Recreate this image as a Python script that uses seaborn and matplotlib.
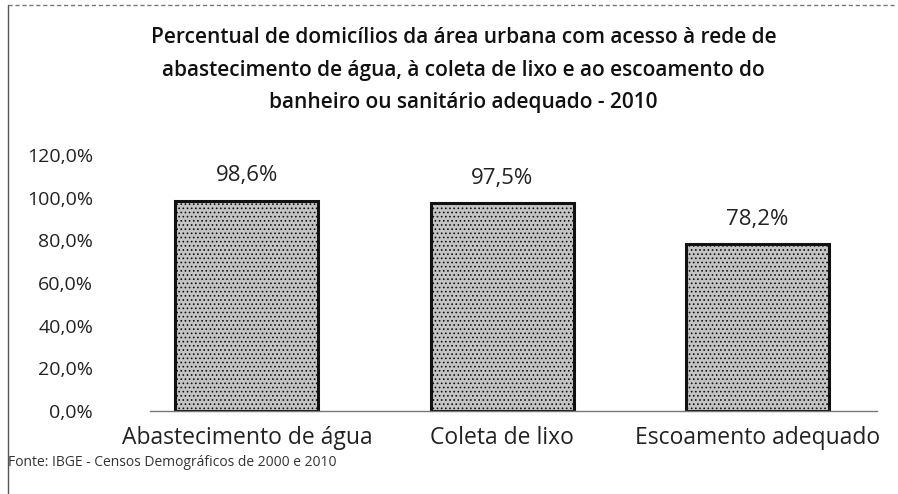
import matplotlib
matplotlib.use("Agg")
import matplotlib.pyplot as plt
import seaborn as sns
import pandas as pd
from matplotlib.lines import Line2D

# data
categorias = ["Abastecimento de água", "Coleta de lixo", "Escoamento adequado"]
percentuais = [98.6, 97.5, 78.2]
yticks = [0, 20, 40, 60, 80, 100, 120]

titulo = ("Percentual de domicílios da área urbana com acesso à rede de\n"
          "abastecimento de água, à coleta de lixo e ao escoamento do\n"
          "banheiro ou sanitário adequado - 2010")
fonte = "Fonte: IBGE - Censos Demográficos de 2000 e 2010"

sns.set_style("white")
plt.rcParams['font.family'] = ['Open Sans', 'DejaVu Sans']
plt.rcParams['hatch.linewidth'] = 0.7

df = pd.DataFrame({'cat': categorias, 'pct': percentuais})

fig = plt.figure(figsize=(8.98, 4.94), dpi=100)
ax = fig.add_axes([0.167, 0.168, 0.81, 0.518])

sns.barplot(x='cat', y='pct', data=df, ax=ax, color='#c4c4c4',
            width=0.56, edgecolor='#111111', linewidth=2.2, saturation=1)
for p in ax.patches:
    p.set_hatch('....')

# value labels above bars
for i, v in enumerate(percentuais):
    ax.annotate(f"{v:.1f}%".replace('.', ','), (i, v), xytext=(0, 18),
                textcoords='offset points', ha='center', va='center',
                fontsize=16, color='#222222')

ax.set_ylim(0, 120)
ax.set_xlim(-0.38, 2.47)
ax.set_yticks(yticks)
ax.set_yticklabels([f"{t:.1f}%".replace('.', ',') for t in yticks],
                   fontsize=14, color='#222222')
ax.tick_params(axis='y', length=0, pad=41)
ax.tick_params(axis='x', length=0, pad=11, labelsize=16.5, labelcolor='#222222')
ax.set_xlabel('')
ax.set_ylabel('')

sns.despine(ax=ax, left=True, top=True, right=True)
ax.spines['bottom'].set_color('#777777')
ax.spines['bottom'].set_linestyle((0, (2, 1)))
ax.spines['bottom'].set_linewidth(1)

fig.text(0.516, 0.858, titulo, ha='center', va='center', fontsize=15,
         fontweight='semibold', linespacing=1.7, color='#111111')
fig.text(0.009, 0.064, fonte, ha='left', va='center', fontsize=10,
         color='#333333')

# scanned frame: left and top border
fig.add_artist(Line2D([0.009, 0.009], [0.0, 0.99], transform=fig.transFigure,
                      color='#555555', lw=1))
fig.add_artist(Line2D([0.009, 0.995], [0.99, 0.99], transform=fig.transFigure,
                      color='#777777', lw=1, ls=(0, (3, 2))))

fig.savefig("out.png", dpi=100)
